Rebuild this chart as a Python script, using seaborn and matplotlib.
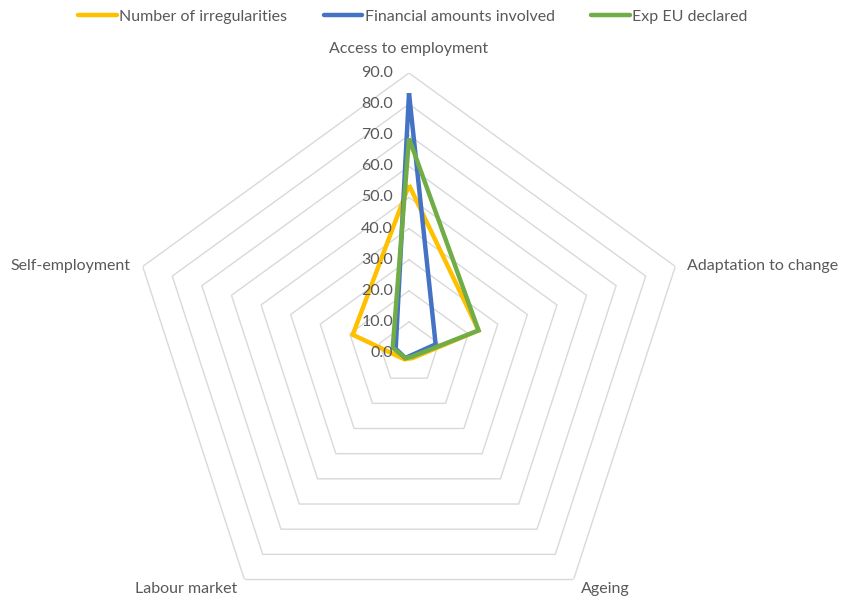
import numpy as np
import pandas as pd
import matplotlib
matplotlib.use("Agg")
import matplotlib.pyplot as plt
import seaborn as sns

# Categories around the radar (clockwise from the top)
categories = ["Access to employment", "Adaptation to change", "Ageing",
              "Labour market", "Self-employment"]

# Share (%) per category for each series
irregularities = [54.0, 23.5, 2.0, 2.5, 19.0]
financial_amounts = [83.5, 9.0, 1.0, 2.0, 4.5]
exp_eu_declared = [69.0, 23.5, 1.5, 2.0, 5.5]

series_names = ["Number of irregularities", "Financial amounts involved", "Exp EU declared"]
series_values = [irregularities, financial_amounts, exp_eu_declared]
series_colors = ["#FFC000", "#4472C4", "#70AD47"]

ring_levels = [10, 20, 30, 40, 50, 60, 70, 80, 90]
radial_labels = ["0.0", "10.0", "20.0", "30.0", "40.0", "50.0", "60.0", "70.0", "80.0", "90.0"]

sns.set_theme(style="white")
plt.rcParams["font.family"] = ["Lato", "DejaVu Sans"]
text_color = "#595959"
grid_color = "#D9D9D9"
fs = 11.5

n = len(categories)
theta = np.arange(n) * 2 * np.pi / n
theta_closed = np.append(theta, 2 * np.pi)

rows = []
for name, vals in zip(series_names, series_values):
    closed = list(vals) + [vals[0]]
    for i, (t, v) in enumerate(zip(theta_closed, closed)):
        rows.append({"series": name, "order": i, "theta": t, "value": v})
df = pd.DataFrame(rows)

fig = plt.figure(figsize=(8.41, 6.00), dpi=100)
W, H = 841, 600
cx, cy, R = 409, 353, 280
ax = fig.add_axes([(cx - R) / W, 1 - (cy + R) / H, 2 * R / W, 2 * R / H],
                  projection="polar")
ax.set_theta_zero_location("N")
ax.set_theta_direction(-1)
ax.set_ylim(0, 90)
ax.grid(False)
ax.spines["polar"].set_visible(False)
ax.set_xticks([])
ax.set_yticks([])
ax.patch.set_alpha(0)

# Pentagonal gridlines
for lvl in ring_levels:
    ax.plot(theta_closed, [lvl] * (n + 1), color=grid_color, lw=1.0, zorder=1)

for name, color in zip(series_names, series_colors):
    sub = df[df["series"] == name].sort_values("order")
    sns.lineplot(data=sub, x="theta", y="value", sort=False, estimator=None,
                 color=color, lw=3.2, ax=ax, label=name, zorder=3,
                 solid_joinstyle="miter", solid_capstyle="butt")
ax.get_legend().remove()

# Radial value labels along the top axis
for i, lab in enumerate(radial_labels):
    ax.annotate(lab, xy=(0, i * 10), xytext=(-16, 0), textcoords="offset pixels",
                ha="right", va="center", fontsize=fs, color=text_color,
                annotation_clip=False)

# Category labels
label_specs = [
    ((0, 24), "center"),
    ((12, 0), "left"),
    ((7, -9), "left"),
    ((-7, -9), "right"),
    ((-12, 0), "right"),
]
for t, cat, (off, ha) in zip(theta, categories, label_specs):
    ax.annotate(cat, xy=(t, 90), xytext=off, textcoords="offset pixels",
                ha=ha, va="center", fontsize=fs, color=text_color,
                annotation_clip=False)

handles = [plt.Line2D([], [], color=c, lw=3.2) for c in series_colors]
fig.legend(handles, series_names, loc="center", bbox_to_anchor=(413 / W, 1 - 17 / H),
           ncol=3, frameon=False, fontsize=fs, handlelength=2.4,
           handletextpad=0.15, columnspacing=2.3, labelcolor=text_color)

fig.savefig("out.png", dpi=100)
